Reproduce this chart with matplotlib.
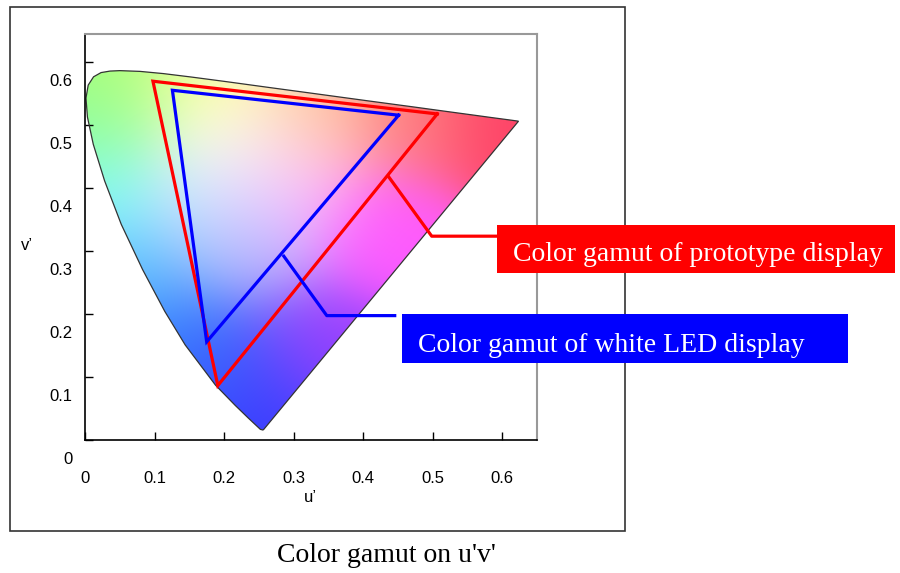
import numpy as np
import matplotlib
matplotlib.use("Agg")
import matplotlib.pyplot as plt
import matplotlib.transforms as mtransforms
from matplotlib.patches import Polygon, Rectangle

# spectral locus (u', v'), 380 -> 700 nm
locus_u = [0.2568, 0.2557, 0.2522, 0.2347, 0.2161, 0.1877, 0.1441, 0.1147, 0.0828,
           0.0521, 0.0282, 0.0119, 0.0035, 0.0014, 0.0046, 0.0123, 0.0231, 0.0360,
           0.0501, 0.0792, 0.1127, 0.1531, 0.2026, 0.2623, 0.3315, 0.4035, 0.4692,
           0.5203, 0.5565, 0.5830, 0.6109, 0.6234]
locus_v = [0.0165, 0.0159, 0.0169, 0.0350, 0.0549, 0.0871, 0.1510, 0.2044, 0.2708,
           0.3427, 0.4117, 0.4698, 0.5131, 0.5432, 0.5638, 0.5770, 0.5837, 0.5861,
           0.5868, 0.5856, 0.5821, 0.5766, 0.5694, 0.5604, 0.5501, 0.5393, 0.5296,
           0.5219, 0.5165, 0.5125, 0.5084, 0.5065]

# display gamuts (R, G, B corners)
proto_u = [0.5065, 0.0977, 0.191]
proto_v = [0.518, 0.570, 0.0865]
led_u = [0.451, 0.1257, 0.175]
led_v = [0.516, 0.5556, 0.156]

# leader lines
proto_lead_u = [0.4368, 0.4986, 0.5905]
proto_lead_v = [0.418, 0.3238, 0.3238]
led_lead_u = [0.2859, 0.3477, 0.4454]
led_lead_v = [0.292, 0.1976, 0.1976]

xticks = [0, 0.1, 0.2, 0.3, 0.4, 0.5, 0.6]
xlabels = ["0", "0.1", "0.2", "0.3", "0.4", "0.5", "0.6"]
yticks = [0, 0.1, 0.2, 0.3, 0.4, 0.5, 0.6]
ylabels = ["0", "0.1", "0.2", "0.3", "0.4", "0.5", "0.6"]

# colour samples picked from the diagram fill
shade_u = [0.20, 0.17, 0.04, 0.01, 0.02, 0.07, 0.13, 0.25, 0.20, 0.33, 0.43, 0.60,
           0.47, 0.33, 0.29, 0.23, 0.16]
shade_v = [0.47, 0.56, 0.57, 0.50, 0.40, 0.27, 0.16, 0.03, 0.11, 0.15, 0.33, 0.51,
           0.52, 0.52, 0.40, 0.30, 0.38]
shade_rgb = [(1, 1, 1), (1, 1, 0.6), (0.68, 1, 0.45), (0.55, 1, 0.6), (0.5, 1, 1),
             (0.35, 0.75, 1), (0.2, 0.5, 1), (0.22, 0.22, 1), (0.22, 0.35, 1),
             (0.6, 0.25, 1), (1, 0.35, 1), (1, 0.25, 0.4), (1, 0.5, 0.5),
             (1, 0.8, 0.65), (1, 0.75, 1), (0.7, 0.7, 1), (0.8, 0.9, 1)]

W, H = 900, 573
def fx(p):
    return p / W
def fy(p):
    return 1 - p / H

fig = plt.figure(figsize=(9, 5.73), dpi=100)
ax = fig.add_axes([fx(85), fy(440), fx(537) - fx(85), fy(34) - fy(440)])
ax.set_xlim(0, 0.65)
ax.set_ylim(0, 0.645)

# colour fill: smooth blend of the sampled colours
uu, vv = np.meshgrid(np.linspace(0, 0.65, 400), np.linspace(0, 0.645, 400))
su = np.array(shade_u)[:, None, None]
sv = np.array(shade_v)[:, None, None]
wts = np.exp(-((uu - su) ** 2 + (vv - sv) ** 2) / (2 * 0.07 ** 2)) + 1e-12
wts = wts / wts.sum(axis=0)
rgb = np.einsum("kij,kc->ijc", wts, np.array(shade_rgb, dtype=float))
rgb = np.clip(rgb, 0, 1)
im = ax.imshow(rgb, origin="lower", extent=(0, 0.65, 0, 0.645), aspect="auto",
               interpolation="bilinear", zorder=1)
outline = Polygon(np.column_stack([locus_u, locus_v]), closed=True,
                  facecolor="none", edgecolor="#333333", lw=0.9, zorder=2)
ax.add_patch(outline)
im.set_clip_path(outline)

# gamut triangles
ax.plot(proto_u + proto_u[:1], proto_v + proto_v[:1], color="#ff0000", lw=2.3,
        solid_joinstyle="miter", zorder=3)
ax.plot(led_u + led_u[:1], led_v + led_v[:1], color="#0000ff", lw=2.3,
        solid_joinstyle="miter", zorder=4)
ax.plot(proto_lead_u, proto_lead_v, color="#ff0000", lw=2.3, zorder=4, clip_on=False)
ax.plot(led_lead_u, led_lead_v, color="#0000ff", lw=2.3, zorder=4, clip_on=False)

# axes styling
ax.set_xticks(xticks)
ax.set_xticklabels(xlabels)
ax.set_yticks(yticks)
ax.set_yticklabels(ylabels)
ax.tick_params(direction="in", length=6, width=1, top=False, right=False,
               labelsize=12)
ax.tick_params(axis="x", pad=22)
ax.tick_params(axis="y", pad=9)
for lab in ax.get_xticklabels() + ax.get_yticklabels():
    lab.set_fontfamily("Liberation Sans")
off = mtransforms.ScaledTranslation(0, -0.18, fig.dpi_scale_trans)
for lab in ax.get_yticklabels():
    lab.set_transform(lab.get_transform() + off)
ax.spines["left"].set_linewidth(1.2)
ax.spines["bottom"].set_linewidth(1.2)
ax.spines["top"].set_color("#999999")
ax.spines["right"].set_color("#999999")
ax.spines["top"].set_linewidth(1.5)
ax.spines["right"].set_linewidth(1.5)

fig.text(fx(310), fy(497), "u\u2019", ha="center", va="center", fontsize=12,
         family="Liberation Sans")
fig.text(fx(27), fy(245), "v\u2019", ha="center", va="center", fontsize=12,
         family="Liberation Sans")

# outer frame
fig.patches.append(Rectangle((fx(10), fy(531)), fx(625) - fx(10), fy(7) - fy(531),
                             transform=fig.transFigure, facecolor="none",
                             edgecolor="#333333", lw=1.2, zorder=0))

# label boxes
fig.patches.append(Rectangle((fx(497), fy(273)), fx(895) - fx(497), fy(225) - fy(273),
                             transform=fig.transFigure, facecolor="#ff0000",
                             edgecolor="none", zorder=5))
fig.patches.append(Rectangle((fx(402), fy(363)), fx(848) - fx(402), fy(314) - fy(363),
                             transform=fig.transFigure, facecolor="#0000ff",
                             edgecolor="none", zorder=5))
fig.text(fx(513), fy(261), "Color gamut of prototype display", color="white",
         fontsize=20, family="Liberation Serif", va="baseline", zorder=6)
fig.text(fx(418), fy(352), "Color gamut of white LED display", color="white",
         fontsize=20, family="Liberation Serif", va="baseline", zorder=6)

fig.text(fx(386), fy(555), "Color gamut on u'v'", ha="center", va="center",
         fontsize=20, family="Liberation Serif")

fig.savefig("out.png", dpi=100)
